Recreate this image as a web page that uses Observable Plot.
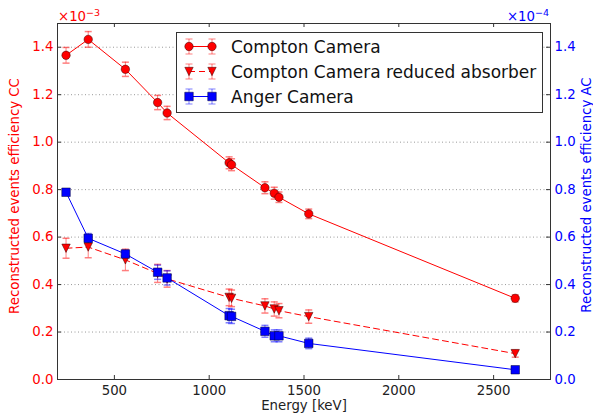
<!DOCTYPE html>
<html><head><meta charset="utf-8">
<script src="https://cdn.jsdelivr.net/npm/d3@7"></script>
<script src="https://cdn.jsdelivr.net/npm/@observablehq/plot@0.6"></script>
<style>
body{margin:0;background:#fff;font-family:"DejaVu Sans",sans-serif}
#wrap{position:relative;width:593px;height:419px;overflow:hidden}
#wrap svg{display:block}
.expo{position:absolute;font-size:13.3px;line-height:1;white-space:nowrap}
.expo sup{font-size:9.5px;vertical-align:5px}
.ylab{position:absolute;font-size:13.3px;line-height:1;white-space:nowrap;transform:translate(-50%,-50%) rotate(-90deg)}
#legend{position:absolute;left:175.5px;top:32px;width:365px;height:79px;border:1px solid #333;background:#fff}
</style></head><body><div id="wrap"></div>
<script>
// ---- data ----
const energy = [245, 362, 558, 728, 778, 1105, 1118, 1294, 1343, 1368, 1525, 2614]; // keV
// Compton Camera, efficiency ×1e-3
const ccEff = [1.366, 1.433, 1.307, 1.167, 1.123, 0.913, 0.905, 0.808, 0.785, 0.768, 0.698, 0.342];
const ccErr = [0.033, 0.033, 0.030, 0.030, 0.028, 0.025, 0.025, 0.025, 0.025, 0.022, 0.020, 0.015];
// Compton Camera reduced absorber, efficiency ×1e-3
const ccRedEff = [0.553, 0.558, 0.504, 0.447, 0.424, 0.346, 0.342, 0.310, 0.297, 0.290, 0.265, 0.109];
const ccRedErr = [0.042, 0.045, 0.045, 0.038, 0.035, 0.035, 0.035, 0.030, 0.030, 0.030, 0.028, 0.015];
// Anger Camera, efficiency ×1e-4
const acEff = [0.789, 0.595, 0.529, 0.452, 0.428, 0.269, 0.266, 0.203, 0.184, 0.184, 0.152, 0.041];
const acErr = [0.010, 0.020, 0.015, 0.030, 0.030, 0.030, 0.030, 0.025, 0.025, 0.025, 0.022, 0.010];

const seriesNames = ["Compton Camera", "Compton Camera reduced absorber", "Anger Camera"];
const xTicks = [500, 1000, 1500, 2000, 2500];
const yTicks = [0, 0.2, 0.4, 0.6, 0.8, 1.0, 1.2, 1.4];
const xDomain = [200, 2800];
const yDomain = [0, 1.5];
const xLabel = "Energy [keV]";
const yLabelLeft = "Reconstructed events efficiency CC";
const yLabelRight = "Reconstructed events efficiency AC";

// ---- build tables ----
const mk = (eff, err) => energy.map((e, i) => ({energy: e, eff: eff[i], err: err[i]}));
const cc = mk(ccEff, ccErr), ccRed = mk(ccRedEff, ccRedErr), ac = mk(acEff, acErr);

const W = 593, H = 419, mL = 57, mR = 43, mT = 23, mB = 40;
const fw = W - mL - mR, fh = H - mT - mB;
const RED = "#ff0000", BLUE = "#0000ff";

const capSym = {draw(ctx) { ctx.moveTo(-3.5, 0); ctx.lineTo(3.5, 0); }};
const triDown = {draw(ctx, size) { const r = Math.sqrt(size / Math.PI); ctx.moveTo(-r, -r); ctx.lineTo(r, -r); ctx.lineTo(0, r); ctx.closePath(); }};

function errMarks(data, color) {
  return [
    Plot.ruleX(data, {x: "energy", y1: d => d.eff - d.err, y2: d => d.eff + d.err, stroke: color, strokeOpacity: 0.5}),
    Plot.dot(data, {x: "energy", y: d => d.eff - d.err, symbol: capSym, stroke: color, strokeOpacity: 0.5, fill: "none"}),
    Plot.dot(data, {x: "energy", y: d => d.eff + d.err, symbol: capSym, stroke: color, strokeOpacity: 0.5, fill: "none"})
  ];
}

const chart = Plot.plot({
  width: W, height: H,
  marginLeft: mL, marginRight: mR, marginTop: mT, marginBottom: mB,
  style: {fontFamily: "DejaVu Sans, sans-serif", fontSize: "13.3px", background: "white"},
  x: {domain: xDomain},
  y: {domain: yDomain},
  marks: [
    Plot.ruleY(yTicks.filter(d => d > 0), {y: d => d, stroke: "#999", strokeDasharray: "1,2.5"}),
    ...errMarks(cc, RED), ...errMarks(ccRed, RED), ...errMarks(ac, BLUE),
    Plot.line(cc, {x: "energy", y: "eff", stroke: RED, strokeWidth: 1}),
    Plot.line(ccRed, {x: "energy", y: "eff", stroke: RED, strokeWidth: 1, strokeDasharray: "6,4"}),
    Plot.line(ac, {x: "energy", y: "eff", stroke: BLUE, strokeWidth: 1}),
    Plot.dot(cc, {x: "energy", y: "eff", r: 4.2, symbol: "circle", fill: RED, stroke: "#300", strokeWidth: 0.5}),
    Plot.dot(ccRed, {x: "energy", y: "eff", r: 4.2, symbol: triDown, fill: RED, stroke: "#300", strokeWidth: 0.5}),
    Plot.dot(ac, {x: "energy", y: "eff", r: 4.8, symbol: "square", fill: BLUE, stroke: "#003", strokeWidth: 0.5}),
    Plot.frame({stroke: "#333", strokeWidth: 1}),
    // inward ticks
    Plot.tickY(yTicks, {y: d => d, insetRight: fw - 4, stroke: "#333"}),
    Plot.tickY(yTicks, {y: d => d, insetLeft: fw - 4, stroke: "#333"}),
    Plot.tickX(xTicks, {x: d => d, insetBottom: fh - 4, stroke: "#333"}),
    Plot.tickX(xTicks, {x: d => d, insetTop: fh - 4, stroke: "#333"}),
    Plot.axisY(yTicks, {anchor: "left", tickSize: 0, tickPadding: 4, tickFormat: d3.format(".1f"), color: RED, label: null}),
    Plot.axisY(yTicks, {anchor: "right", tickSize: 0, tickPadding: 4, tickFormat: d3.format(".1f"), color: BLUE, label: null}),
    Plot.axisX(xTicks, {anchor: "bottom", tickSize: 0, tickPadding: 6, tickFormat: d3.format("d"), fill: "#222", label: null}),
    Plot.text([xLabel], {frameAnchor: "bottom", dy: 30, fill: "#222", fontSize: 13.3})
  ]
});
const wrap = document.getElementById("wrap");
wrap.appendChild(chart);

// rotated y-axis labels
function ylab(text, color, cx, cy) {
  const d = document.createElement("div");
  d.className = "ylab"; d.style.color = color;
  d.style.left = cx + "px"; d.style.top = cy + "px";
  d.textContent = text;
  wrap.appendChild(d);
}
ylab(yLabelLeft, RED, 15, mT + fh / 2 - 5);
ylab(yLabelRight, BLUE, 587, mT + fh / 2 - 6);

// exponent labels
const e1 = document.createElement("div");
e1.className = "expo"; e1.style.color = RED; e1.style.left = "58px"; e1.style.top = "8px";
e1.innerHTML = "×10<sup>−3</sup>";
wrap.appendChild(e1);
const e2 = document.createElement("div");
e2.className = "expo"; e2.style.color = BLUE; e2.style.right = (W - 549) + "px"; e2.style.top = "8px";
e2.innerHTML = "×10<sup>−4</sup>";
wrap.appendChild(e2);

// legend
const leg = document.createElement("div");
leg.id = "legend";
wrap.appendChild(leg);
const lsvg = d3.select(leg).append("svg").attr("width", 365).attr("height", 79)
  .style("font-family", "DejaVu Sans, sans-serif");
const legItems = [
  {name: seriesNames[0], color: RED, dash: null, sym: d3.symbolCircle, size: Math.PI * 4.2 * 4.2, down: false},
  {name: seriesNames[1], color: RED, dash: "6,4", sym: null, size: 0, down: true},
  {name: seriesNames[2], color: BLUE, dash: null, sym: d3.symbolSquare, size: Math.PI * 4.8 * 4.8, down: false}
];
legItems.forEach((it, i) => {
  const cy = 13.5 + i * 25;
  const g = lsvg.append("g");
  g.append("line").attr("x1", 12).attr("x2", 35).attr("y1", cy).attr("y2", cy)
    .attr("stroke", it.color).attr("stroke-dasharray", it.dash);
  [12, 35].forEach(cx => {
    g.append("line").attr("x1", cx).attr("x2", cx).attr("y1", cy - 7.5).attr("y2", cy + 7.5)
      .attr("stroke", it.color).attr("stroke-opacity", 0.5);
    [cy - 7.5, cy + 7.5].forEach(yy => g.append("line").attr("x1", cx - 3.5).attr("x2", cx + 3.5)
      .attr("y1", yy).attr("y2", yy).attr("stroke", it.color).attr("stroke-opacity", 0.5));
    if (it.down) {
      const r = 4.2;
      g.append("path").attr("d", `M${cx - r},${cy - r}L${cx + r},${cy - r}L${cx},${cy + r}Z`)
        .attr("fill", it.color).attr("stroke", "#300").attr("stroke-width", 0.5);
    } else {
      g.append("path").attr("d", d3.symbol(it.sym, it.size)()).attr("transform", `translate(${cx},${cy})`)
        .attr("fill", it.color).attr("stroke", i === 2 ? "#003" : "#300").attr("stroke-width", 0.5);
    }
  });
  g.append("text").attr("x", 54).attr("y", cy).attr("dy", "0.36em").attr("font-size", "17px")
    .attr("fill", "#111").text(it.name);
});
</script></body></html>
